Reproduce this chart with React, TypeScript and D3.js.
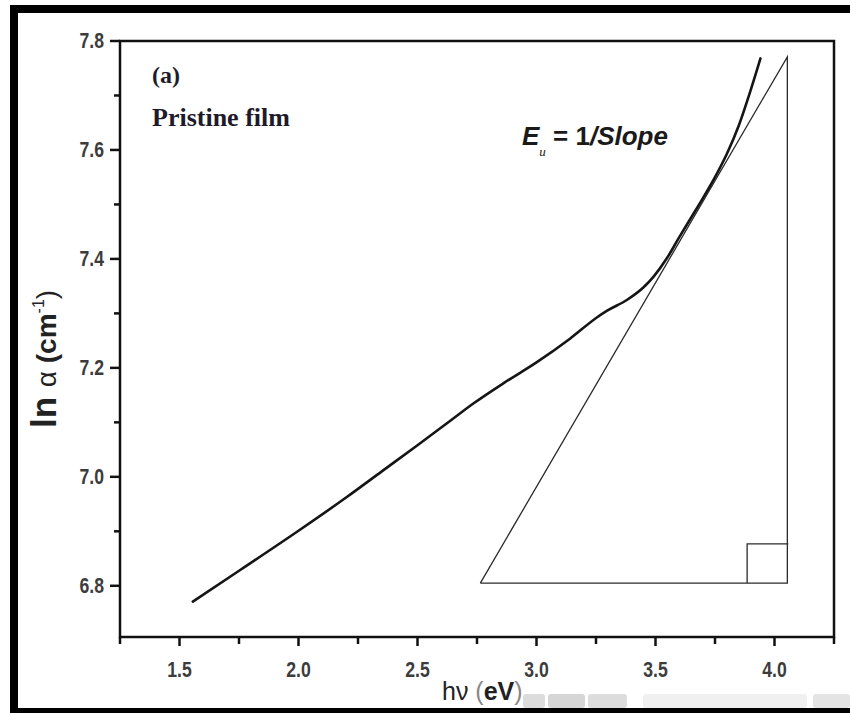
import React, { useEffect, useRef } from 'react';
import * as d3 from 'd3';

// ln(alpha) vs photon energy, pristine film
const energy = [1.556, 1.755, 2.0, 2.2, 2.35, 2.5, 2.638, 2.736, 2.862, 3.0, 3.142, 3.255, 3.297, 3.381, 3.45, 3.493, 3.549, 3.6, 3.65, 3.7, 3.75, 3.8, 3.85, 3.9, 3.941];
const lnAlpha = [6.771, 6.829, 6.901, 6.962, 7.01, 7.058, 7.103, 7.135, 7.172, 7.21, 7.254, 7.293, 7.305, 7.325, 7.348, 7.368, 7.402, 7.44, 7.476, 7.512, 7.55, 7.593, 7.645, 7.71, 7.768];

// slope triangle (tangent, base, height) and right-angle mark
const triX = [2.764, 4.054, 4.054, 2.764];
const triY = [6.805, 6.805, 7.771, 6.805];
const squareX = [3.885, 4.058];
const squareY = [6.805, 6.877];

const xMajor = [1.5, 2.0, 2.5, 3.0, 3.5, 4.0];
const xMinor = [1.25, 1.75, 2.25, 2.75, 3.25, 3.75, 4.25];
const yMajor = [6.8, 7.0, 7.2, 7.4, 7.6, 7.8];
const yMinor = [6.9, 7.1, 7.3, 7.5, 7.7];

const W = 850;
const H = 713;
const margin = { top: 41, right: 16, bottom: 76, left: 120 };
const sans = 'Arial, "Liberation Sans", sans-serif';
const serif = '"Liberation Serif", "Times New Roman", serif';

const Chart = () => {
  const svgRef = useRef<SVGSVGElement>(null);

  useEffect(() => {
    const svg = d3.select(svgRef.current);
    svg.selectAll('*').remove();

    const x = d3.scaleLinear().domain([1.25, 4.25]).range([margin.left, W - margin.right]);
    const y = d3.scaleLinear().domain([6.706, 7.8]).range([H - margin.bottom, margin.top]);
    const [x0, x1] = x.range();
    const [y0, y1] = y.range();

    svg.append('rect').attr('width', W).attr('height', H).attr('fill', '#fff');

    // outer black frame (left, top, bottom)
    svg.append('rect').attr('x', 10).attr('y', 5).attr('width', 8).attr('height', 708).attr('fill', '#000');
    svg.append('rect').attr('x', 10).attr('y', 5).attr('width', 840).attr('height', 8).attr('fill', '#000');
    svg.append('rect').attr('x', 10).attr('y', 708).attr('width', 840).attr('height', 5).attr('fill', '#000');

    // faint watermark blocks near bottom
    const marks = [[523, 22, '#dcdcdc'], [548, 37, '#d6d6d6'], [588, 39, '#dcdcdc'], [643, 164, '#f0f0f0'], [813, 37, '#e4e4e4']];
    marks.forEach(([mx, mw, c]) => {
      svg.append('rect').attr('x', mx as number).attr('y', 694).attr('width', mw as number).attr('height', 14)
        .attr('rx', 3).attr('fill', c as string);
    });

    // plot box
    svg.append('rect')
      .attr('x', x0).attr('y', y1)
      .attr('width', x1 - x0).attr('height', y0 - y1)
      .attr('fill', 'none').attr('stroke', '#111').attr('stroke-width', 2.5);

    // ticks
    const g = svg.append('g').attr('stroke', '#111').attr('stroke-width', 2.5);
    xMajor.forEach(v => g.append('line').attr('x1', x(v)).attr('x2', x(v)).attr('y1', y0).attr('y2', y0 + 9));
    xMinor.forEach(v => g.append('line').attr('x1', x(v)).attr('x2', x(v)).attr('y1', y0).attr('y2', y0 + 7));
    yMajor.forEach(v => g.append('line').attr('x1', x0).attr('x2', x0 - 10).attr('y1', y(v)).attr('y2', y(v)));
    yMinor.forEach(v => g.append('line').attr('x1', x0).attr('x2', x0 - 6).attr('y1', y(v)).attr('y2', y(v)));

    // tick labels (condensed look)
    svg.selectAll('.xl').data(xMajor).enter().append('text')
      .attr('transform', d => `translate(${x(d)}, 677) scale(0.8, 1)`)
      .attr('text-anchor', 'middle')
      .style('font-family', sans).style('font-size', '22px').style('font-weight', 'bold')
      .attr('fill', '#3c3c3c')
      .text(d => d.toFixed(1));

    svg.selectAll('.yl').data(yMajor).enter().append('text')
      .attr('transform', d => `translate(104, ${y(d) + 7}) scale(0.8, 1)`)
      .attr('text-anchor', 'end')
      .style('font-family', sans).style('font-size', '22px').style('font-weight', 'bold')
      .attr('fill', '#3c3c3c')
      .text(d => d.toFixed(1));

    // axis titles
    const xt = svg.append('text').attr('x', 442).attr('y', 700)
      .style('font-family', sans).style('font-size', '25px').attr('fill', '#222');
    xt.append('tspan').text('hν ');
    xt.append('tspan').attr('fill', '#888').text('(');
    xt.append('tspan').style('font-weight', 'bold').text('eV');
    xt.append('tspan').attr('fill', '#888').text(')');

    const yt = svg.append('text').attr('transform', 'translate(56, 428) rotate(-90)')
      .style('font-family', sans).style('font-size', '28px').attr('fill', '#222');
    yt.append('tspan').style('font-weight', 'bold').style('font-size', '35px').text('ln ');
    yt.append('tspan').text('α ');
    yt.append('tspan').style('font-weight', 'bold').text('(cm');
    yt.append('tspan').attr('dy', -12).style('font-size', '16px').text('-1');
    yt.append('tspan').attr('dy', 12).text(')');

    // annotations
    svg.append('text').attr('x', 152).attr('y', 83)
      .style('font-family', serif).style('font-size', '24px').style('font-weight', 'bold')
      .attr('fill', '#1e1a2a').text('(a)');
    svg.append('text').attr('x', 152).attr('y', 126)
      .style('font-family', serif).style('font-size', '26px').style('font-weight', 'bold')
      .attr('fill', '#1e1a2a').text('Pristine film');

    const eq = svg.append('text').attr('x', 522).attr('y', 145)
      .style('font-family', sans).style('font-size', '26px').style('font-weight', 'bold')
      .attr('fill', '#1a1a1a');
    eq.append('tspan').style('font-style', 'italic').text('E');
    eq.append('tspan').attr('dy', 11).style('font-size', '13px').style('font-style', 'italic')
      .style('font-family', serif).style('font-weight', 'normal').text('u');
    eq.append('tspan').attr('dy', -11).text(' = 1');
    eq.append('tspan').style('font-style', 'italic').text('/Slope');

    // slope triangle
    const pts = triX.map((v, i) => [x(v), y(triY[i])] as [number, number]);
    svg.append('path').attr('d', d3.line()(pts))
      .attr('fill', 'none').attr('stroke', '#2a2a2a').attr('stroke-width', 1.3);
    svg.append('path')
      .attr('d', d3.line()([[x(squareX[0]), y(squareY[0])], [x(squareX[0]), y(squareY[1])], [x(squareX[1]), y(squareY[1])]]))
      .attr('fill', 'none').attr('stroke', '#2a2a2a').attr('stroke-width', 1.3);

    // data curve
    const line = d3.line<number>()
      .x((_, i) => x(energy[i]))
      .y(d => y(d))
      .curve(d3.curveMonotoneX);
    svg.append('path').attr('d', line(lnAlpha))
      .attr('fill', 'none').attr('stroke', '#151515').attr('stroke-width', 2.6).attr('stroke-linecap', 'round');
  }, []);

  return <svg ref={svgRef} width={W} height={H} style={{ display: 'block' }}></svg>;
};

export default function App() {
  return (
    <div style={{ position: 'absolute', left: 0, top: 0 }}>
      <Chart />
    </div>
  );
}
